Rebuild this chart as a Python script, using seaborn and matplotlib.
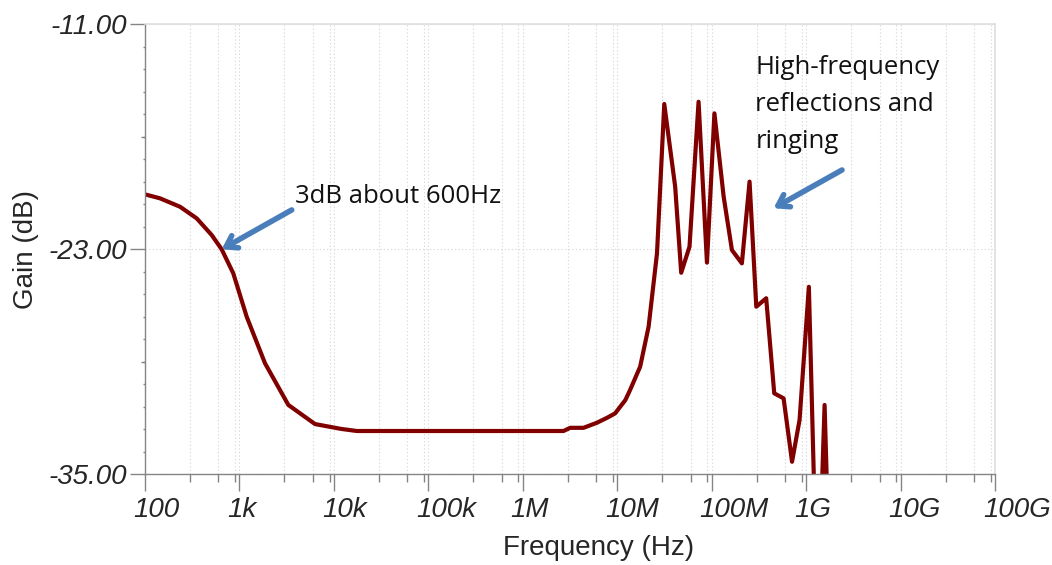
import numpy as np
import pandas as pd
import matplotlib
matplotlib.use("Agg")
import matplotlib.pyplot as plt
import matplotlib.ticker as mticker
from matplotlib.transforms import ScaledTranslation
import seaborn as sns

# Frequency response of the line (Hz, dB)
freq_hz = [100, 144, 235, 353, 509, 649, 861, 1195, 1867, 3296, 6320, 12000,
           17500, 2.7e6, 3.18e6, 4.4e6, 6.1e6, 7.78e6, 9.5e6, 1.22e7, 1.37e7,
           1.75e7, 2.15e7, 2.64e7, 3.15e7, 4.11e7, 4.76e7, 5.83e7, 7.27e7,
           8.92e7, 1.07e8, 1.34e8, 1.64e8, 2.09e8, 2.52e8, 2.97e8, 3.78e8,
           4.6e8, 5.78e8, 7.1e8, 8.53e8, 1.07e9, 1.28e9, 1.38e9, 1.57e9, 1.76e9]
gain_db = [-20.07, -20.28, -20.73, -21.35, -22.24, -23.0, -24.28, -26.6, -29.08,
           -31.3, -32.32, -32.58, -32.69, -32.69, -32.52, -32.52, -32.25, -31.99,
           -31.75, -31.04, -30.5, -29.26, -27.13, -23.21, -15.25, -19.66, -24.25,
           -22.86, -15.13, -23.71, -15.75, -20.19, -23.04, -23.75, -19.39, -26.06,
           -25.61, -30.68, -30.95, -34.33, -32.1, -25.0, -40.0, -40.0, -31.3, -40.0]

x_ticks = [1e2, 1e3, 1e4, 1e5, 1e6, 1e7, 1e8, 1e9, 1e10, 1e11]
x_tick_labels = ["100", "1k", "10k", "100k", "1M", "10M", "100M", "1G", "10G", "100G"]
y_ticks = [-11, -23, -35]
y_tick_labels = ["-11.00", "-23.00", "-35.00"]
y_mid_ticks = [-17, -29]

note_low = "3dB about 600Hz"
note_high = "High-frequency\nreflections and\nringing"

sns.set_style("white")
plt.rcParams["font.family"] = ["Liberation Sans", "DejaVu Sans"]

fig = plt.figure(figsize=(10.52, 5.65), dpi=100)
ax = fig.add_axes([0.1378, 0.1605, 0.808, 0.7965])
ax.set_xscale("log")

df = pd.DataFrame({"Frequency": freq_hz, "Gain": gain_db})
sns.lineplot(data=df, x="Frequency", y="Gain", ax=ax, color="#800000",
             lw=3.0, sort=False)

ax.set_xlim(1e2, 1e11)
ax.set_ylim(-35, -11)

# x axis: decades with minor ticks at 3, 6, 9
ax.xaxis.set_major_locator(mticker.FixedLocator(x_ticks))
ax.xaxis.set_minor_locator(mticker.LogLocator(base=10, subs=(3, 6, 9), numticks=30))
ax.xaxis.set_minor_formatter(mticker.NullFormatter())
ax.set_xticks(x_ticks)
ax.set_xticklabels(x_tick_labels, fontsize=20, style="italic")

# y axis: 1.2 dB minor subdivisions
ax.set_yticks(y_ticks)
ax.set_yticklabels(y_tick_labels, fontsize=20, style="italic")
ax.yaxis.set_minor_locator(mticker.FixedLocator(np.arange(-35, -10.9, 1.2)))

axis_grey = "#858585"
ax.tick_params(axis="x", which="major", direction="out", length=12.5, width=1.0,
               color=axis_grey, pad=4, bottom=True)
ax.tick_params(axis="x", which="minor", direction="out", length=5.5, width=1.0,
               color=axis_grey, bottom=True)
ax.tick_params(axis="y", which="major", direction="out", length=11, width=1.0,
               color=axis_grey, pad=2, left=True)
ax.tick_params(axis="y", which="minor", direction="out", length=1.2, width=1.0,
               color=axis_grey, left=True)

sec = ax.secondary_yaxis("left")
sec.set_yticks(y_mid_ticks)
sec.set_yticklabels([])
sec.tick_params(axis="y", which="major", direction="out", length=3, width=1.0,
                color=axis_grey)
sec.tick_params(axis="y", which="minor", left=False)
sec.spines["left"].set_visible(False)

# tick labels sit to the right of their tick
offset = ScaledTranslation(-0.12, 0, fig.dpi_scale_trans)
for lbl in ax.get_xticklabels():
    lbl.set_horizontalalignment("left")
    lbl.set_transform(lbl.get_transform() + offset)

grid_style = dict(color="#dadada", lw=0.8, ls=(0, (1.2, 2.0)))
ax.grid(which="both", axis="x", **grid_style)
ax.grid(which="major", axis="y", **grid_style)

for side in ("left", "bottom"):
    ax.spines[side].set_color(axis_grey)
    ax.spines[side].set_linewidth(1.0)
for side in ("top", "right"):
    ax.spines[side].set_color("#dedede")
    ax.spines[side].set_linewidth(1.2)

ax.set_xlabel("Frequency (Hz)", fontsize=20)
ax.set_ylabel("Gain (dB)", fontsize=20)
ax.xaxis.set_label_coords(0.534, -0.135)
ax.yaxis.set_label_coords(-0.125, 0.5)

# callouts
note_font = ["Open Sans", "DejaVu Sans"]
arrow_blue = "#4A7EBB"
arrow_props = dict(arrowstyle="->,head_length=0.75,head_width=0.5", color=arrow_blue,
                   lw=4.0, shrinkA=0, shrinkB=0)
ax.annotate("", xy=(649, -23.0), xytext=(3581, -20.9), arrowprops=arrow_props)
ax.annotate("", xy=(4.53e8, -20.81), xytext=(2.4e9, -18.77), arrowprops=arrow_props)
ax.text(3880, -20.55, note_low, fontsize=18.5, family=note_font, va="baseline",
        ha="left", color="#111111")
ax.text(2.9e8, -12.65, note_high, fontsize=18.5, family=note_font, va="top",
        ha="left", linespacing=1.62, color="#111111")

fig.savefig("out.png", dpi=100)
